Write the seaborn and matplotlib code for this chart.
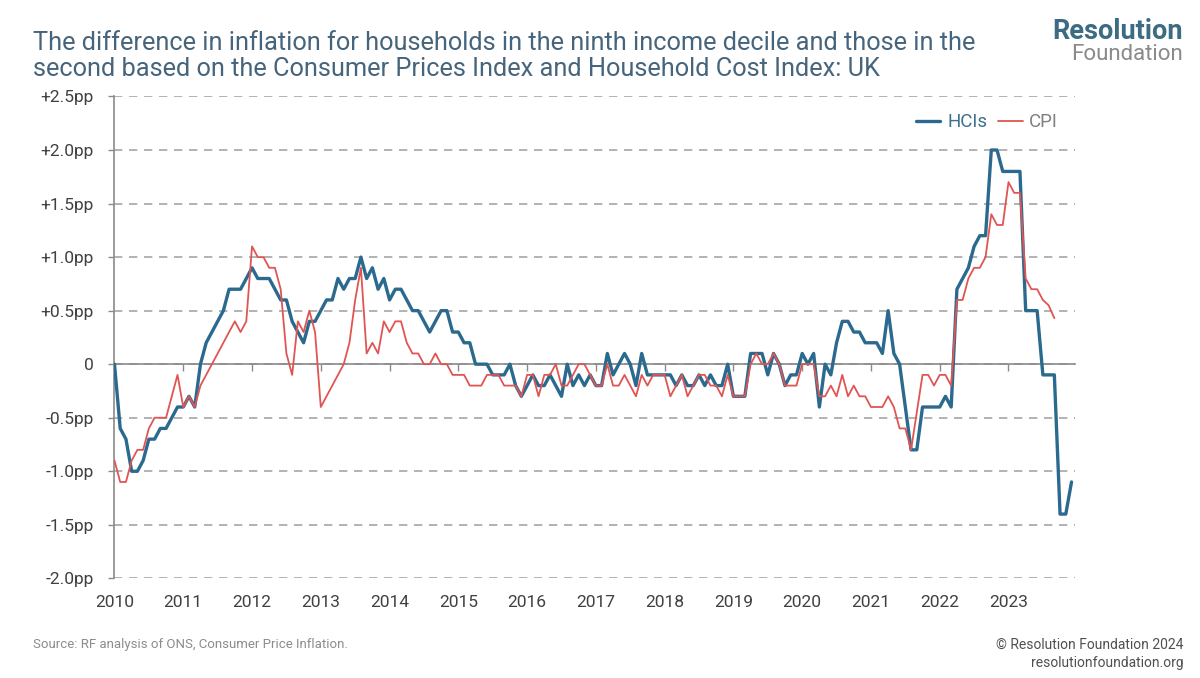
import numpy as np
import pandas as pd
import matplotlib
matplotlib.use("Agg")
import matplotlib.pyplot as plt
import seaborn as sns

# ---------------- data (monthly, from Jan 2010) ----------------
start_year = 2010
hcis = [
    0.0, -0.6, -0.7, -1.0, -1.0, -0.9, -0.7, -0.7, -0.6, -0.6, -0.5, -0.4,   # 2010
    -0.4, -0.3, -0.4, 0.0, 0.2, 0.3, 0.4, 0.5, 0.7, 0.7, 0.7, 0.8,           # 2011
    0.9, 0.8, 0.8, 0.8, 0.7, 0.6, 0.6, 0.4, 0.3, 0.2, 0.4, 0.4,              # 2012
    0.5, 0.6, 0.6, 0.8, 0.7, 0.8, 0.8, 1.0, 0.8, 0.9, 0.7, 0.8,              # 2013
    0.6, 0.7, 0.7, 0.6, 0.5, 0.5, 0.4, 0.3, 0.4, 0.5, 0.5, 0.3,              # 2014
    0.3, 0.2, 0.2, 0.0, 0.0, 0.0, -0.1, -0.1, -0.1, 0.0, -0.2, -0.3,         # 2015
    -0.2, -0.1, -0.2, -0.2, -0.1, -0.2, -0.3, 0.0, -0.2, -0.1, -0.2, -0.1,   # 2016
    -0.2, -0.2, 0.1, -0.1, 0.0, 0.1, 0.0, -0.2, 0.1, -0.1, -0.1, -0.1,       # 2017
    -0.1, -0.1, -0.2, -0.1, -0.2, -0.2, -0.1, -0.2, -0.1, -0.2, -0.2, 0.0,   # 2018
    -0.3, -0.3, -0.3, 0.1, 0.1, 0.1, -0.1, 0.1, 0.0, -0.2, -0.1, -0.1,       # 2019
    0.1, 0.0, 0.1, -0.4, 0.0, -0.1, 0.2, 0.4, 0.4, 0.3, 0.3, 0.2,            # 2020
    0.2, 0.2, 0.1, 0.5, 0.1, 0.0, -0.4, -0.8, -0.8, -0.4, -0.4, -0.4,        # 2021
    -0.4, -0.3, -0.4, 0.7, 0.8, 0.9, 1.1, 1.2, 1.2, 2.0, 2.0, 1.8,           # 2022
    1.8, 1.8, 1.8, 0.5, 0.5, 0.5, -0.1, -0.1, -0.1, -1.4, -1.4, -1.1,        # 2023
]
cpi = [
    -0.9, -1.1, -1.1, -0.9, -0.8, -0.8, -0.6, -0.5, -0.5, -0.5, -0.3, -0.1,  # 2010
    -0.4, -0.3, -0.4, -0.2, -0.1, 0.0, 0.1, 0.2, 0.3, 0.4, 0.3, 0.4,         # 2011
    1.1, 1.0, 1.0, 0.9, 0.9, 0.7, 0.1, -0.1, 0.4, 0.3, 0.5, 0.3,             # 2012
    -0.4, -0.3, -0.2, -0.1, 0.0, 0.2, 0.6, 0.9, 0.1, 0.2, 0.1, 0.4,          # 2013
    0.3, 0.4, 0.4, 0.2, 0.1, 0.1, 0.0, 0.0, 0.1, 0.0, 0.0, -0.1,             # 2014
    -0.1, -0.1, -0.2, -0.2, -0.2, -0.1, -0.1, -0.1, -0.2, -0.2, -0.2, -0.3,  # 2015
    -0.1, -0.1, -0.3, -0.1, -0.1, 0.0, -0.2, -0.2, -0.1, 0.0, 0.0, -0.1,     # 2016
    -0.2, -0.2, 0.0, -0.2, -0.2, -0.1, -0.2, -0.3, -0.1, -0.2, -0.1, -0.1,   # 2017
    -0.1, -0.3, -0.2, -0.1, -0.3, -0.2, -0.1, -0.1, -0.2, -0.2, -0.3, -0.1,  # 2018
    -0.3, -0.3, -0.3, 0.0, 0.1, 0.0, 0.0, 0.1, 0.0, -0.2, -0.2, -0.2,        # 2019
    0.0, 0.0, 0.0, -0.3, -0.3, -0.2, -0.3, -0.1, -0.3, -0.2, -0.3, -0.3,     # 2020
    -0.4, -0.4, -0.4, -0.3, -0.4, -0.6, -0.6, -0.8, -0.45, -0.1, -0.1, -0.2, # 2021
    -0.1, -0.1, -0.2, 0.6, 0.6, 0.8, 0.9, 0.9, 1.0, 1.4, 1.3, 1.3,           # 2022
    1.7, 1.6, 1.6, 0.8, 0.7, 0.7, 0.6, 0.55, 0.43,                           # 2023
]
series_names = ["HCIs", "CPI"]
series_colors = ["#2b6a8e", "#e05553"]
series_widths = [2.4, 1.3]
year_ticks = list(range(2010, 2024))
y_ticks = [2.5, 2.0, 1.5, 1.0, 0.5, 0.0, -0.5, -1.0, -1.5, -2.0]
y_labels = ["+2.5pp", "+2.0pp", "+1.5pp", "+1.0pp", "+0.5pp", "0",
            "-0.5pp", "-1.0pp", "-1.5pp", "-2.0pp"]

title = ("The difference in inflation for households in the ninth income decile and those in the\n"
         "second based on the Consumer Prices Index and Household Cost Index: UK")
source = "Source: RF analysis of ONS, Consumer Price Inflation."

# ---------------- build table ----------------
frames = []
for name, vals in zip(series_names, [hcis, cpi]):
    t = start_year + np.arange(len(vals)) / 12.0
    frames.append(pd.DataFrame({"t": t, "value": vals, "series": name}))
df = pd.concat(frames, ignore_index=True)

# ---------------- figure ----------------
sns.set_theme(style="white")
plt.rcParams["font.family"] = ["Roboto", "DejaVu Sans"]

fig = plt.figure(figsize=(12, 6.78), dpi=100)
ax = fig.add_axes([0.0954, 0.147, 0.8004, 0.7107])

for name, col, lw in zip(series_names, series_colors, series_widths):
    sns.lineplot(data=df[df.series == name], x="t", y="value", color=col,
                 linewidth=lw, ax=ax, label=name, zorder=3 if name == "HCIs" else 4)

ax.set_xlim(2010, 2010 + 167.6 / 12)
ax.set_ylim(-2.0, 2.5)
ax.set_xlabel("")
ax.set_ylabel("")

# y axis
ax.set_yticks(y_ticks)
ax.set_yticklabels(y_labels)
ax.tick_params(axis="y", direction="out", length=4, width=1, color="#8a8a8a",
               labelsize=12.5, labelcolor="#404040", pad=11, left=True)
ax.yaxis.grid(True, color="#a6a6a6", linestyle=(0, (5, 4)), linewidth=1.2)
ax.set_axisbelow(True)

for s in ["top", "right"]:
    ax.spines[s].set_visible(False)
ax.spines["left"].set_color("#8a8a8a")
ax.spines["left"].set_linewidth(1.2)
ax.spines["bottom"].set_position(("data", 0))
ax.spines["bottom"].set_color("#8a8a8a")
ax.spines["bottom"].set_linewidth(1.2)
ax.spines["bottom"].set_zorder(2)

# ticks on the zero line, labels at the bottom
ax.set_xticks(year_ticks)
ax.tick_params(axis="x", direction="out", length=5, width=1, color="#8a8a8a",
               labelbottom=False, bottom=True)
sec = ax.secondary_xaxis(0)
sec.set_xticks(year_ticks)
sec.set_xticklabels([str(y) for y in year_ticks])
sec.tick_params(axis="x", length=0, labelsize=12.5, labelcolor="#404040", pad=12)
sec.spines["bottom"].set_visible(False)

# legend
leg = ax.legend(loc="upper right", bbox_to_anchor=(1.0, 1.0), ncol=2,
                frameon=False, handlelength=1.3, handletextpad=0.35,
                columnspacing=0.6, fontsize=13.5)
for txt, c in zip(leg.get_texts(), ["#3d6f8e", "#7f7f7f"]):
    txt.set_color(c)

# title
fig.text(0.0275, 0.955, title, ha="left", va="top", fontsize=18.3,
         color="#46657c", linespacing=1.12,
         family=["Roboto", "DejaVu Sans"])

# logo
fig.text(0.986, 0.953, "Resolution", ha="right", va="center", fontsize=19.5,
         fontweight="bold", color="#3b6c82", family=["Roboto", "DejaVu Sans"])
fig.text(0.986, 0.920, "Foundation", ha="right", va="center", fontsize=16,
         color="#8a8a8a", family=["Roboto", "DejaVu Sans"])

# footer
fig.text(0.0275, 0.049, source, ha="left", va="center", fontsize=9.5,
         color="#8c8c8c")
fig.text(0.986, 0.049, "\u00a9 Resolution Foundation 2024", ha="right",
         va="center", fontsize=10, color="#505050")
fig.text(0.986, 0.022, "resolutionfoundation.org", ha="right",
         va="center", fontsize=10, color="#505050")

fig.savefig("out.png", dpi=100)
